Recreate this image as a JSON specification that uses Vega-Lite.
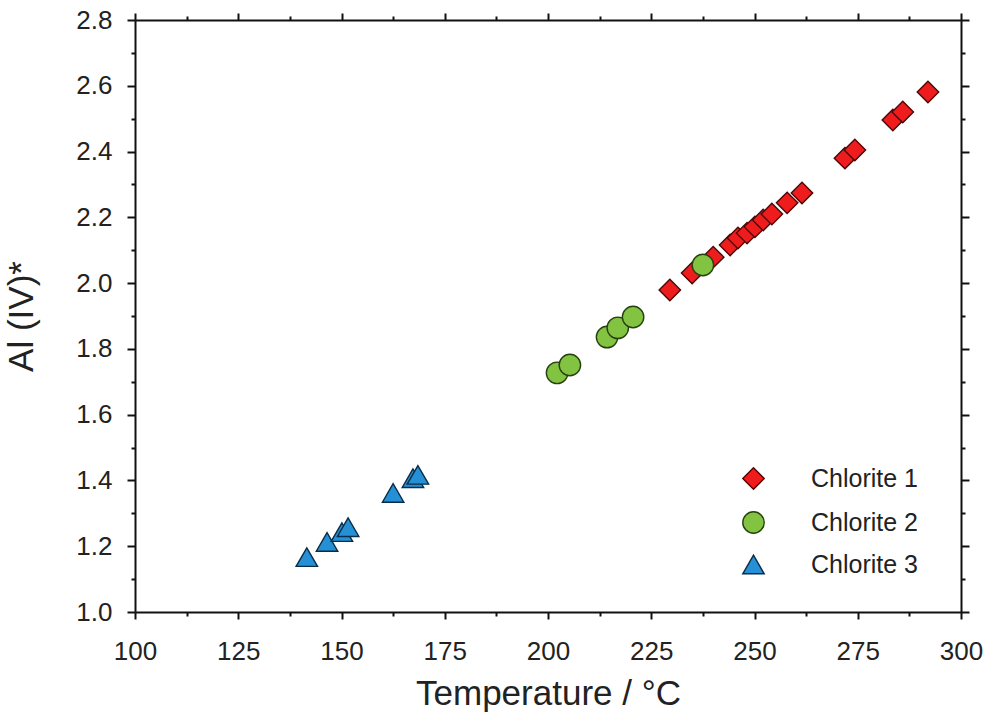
{
  "$schema": "https://vega.github.io/schema/vega-lite/v6.json",
  "width": 826,
  "height": 592,
  "autosize": {"type": "none"},
  "padding": {"left": 135, "top": 20, "right": 25, "bottom": 109},
  "background": "white",
  "config": {
    "view": {"stroke": null},
    "font": "Liberation Sans",
    "axis": {
      "grid": false,
      "domainColor": "#111",
      "domainWidth": 2,
      "tickColor": "#111",
      "tickWidth": 2,
      "labelFont": "Liberation Sans",
      "labelFontSize": 26,
      "labelColor": "#222",
      "labelOverlap": false,
      "labelFlush": false,
      "labelBound": false,
      "titleFont": "Liberation Sans",
      "titleFontSize": 35,
      "titleFontWeight": "normal",
      "titleColor": "#222"
    }
  },
  "data": {
    "values": [
      {"temp": 229.5, "al": 1.979, "group": "Chlorite 1"},
      {"temp": 234.9, "al": 2.031, "group": "Chlorite 1"},
      {"temp": 240.0, "al": 2.079, "group": "Chlorite 1"},
      {"temp": 244.1, "al": 2.116, "group": "Chlorite 1"},
      {"temp": 246.0, "al": 2.137, "group": "Chlorite 1"},
      {"temp": 248.2, "al": 2.152, "group": "Chlorite 1"},
      {"temp": 250.1, "al": 2.171, "group": "Chlorite 1"},
      {"temp": 252.1, "al": 2.192, "group": "Chlorite 1"},
      {"temp": 254.2, "al": 2.21, "group": "Chlorite 1"},
      {"temp": 257.9, "al": 2.244, "group": "Chlorite 1"},
      {"temp": 261.5, "al": 2.274, "group": "Chlorite 1"},
      {"temp": 271.9, "al": 2.38, "group": "Chlorite 1"},
      {"temp": 274.3, "al": 2.405, "group": "Chlorite 1"},
      {"temp": 283.5, "al": 2.496, "group": "Chlorite 1"},
      {"temp": 285.9, "al": 2.52, "group": "Chlorite 1"},
      {"temp": 292.0, "al": 2.581, "group": "Chlorite 1"},
      {"temp": 202.2, "al": 1.727, "group": "Chlorite 2"},
      {"temp": 205.3, "al": 1.751, "group": "Chlorite 2"},
      {"temp": 214.3, "al": 1.836, "group": "Chlorite 2"},
      {"temp": 216.9, "al": 1.864, "group": "Chlorite 2"},
      {"temp": 220.6, "al": 1.897, "group": "Chlorite 2"},
      {"temp": 237.5, "al": 2.055, "group": "Chlorite 2"},
      {"temp": 141.6, "al": 1.167, "group": "Chlorite 3"},
      {"temp": 146.5, "al": 1.213, "group": "Chlorite 3"},
      {"temp": 150.1, "al": 1.243, "group": "Chlorite 3"},
      {"temp": 151.6, "al": 1.258, "group": "Chlorite 3"},
      {"temp": 162.5, "al": 1.362, "group": "Chlorite 3"},
      {"temp": 167.3, "al": 1.407, "group": "Chlorite 3"},
      {"temp": 168.5, "al": 1.417, "group": "Chlorite 3"}
    ]
  },
  "layer": [
    {
      "mark": {"type": "point", "filled": true, "opacity": 1, "strokeWidth": 1.4, "size": 460},
      "encoding": {
        "x": {
          "field": "temp", "type": "quantitative",
          "scale": {"domain": [100, 300], "nice": false, "zero": false},
          "axis": {
            "orient": "bottom",
            "title": "Temperature / °C",
            "values": [100,112.5,125,137.5,150,162.5,175,187.5,200,212.5,225,237.5,250,262.5,275,287.5,300],
            "labelExpr": "datum.value % 25 == 0 ? format(datum.value, 'd') : ''",
            "tickSize": {"condition": {"test": "datum.value % 25 == 0", "value": 7}, "value": 4},
            "labelPadding": 19,
            "titlePadding": 12
          }
        },
        "y": {
          "field": "al", "type": "quantitative",
          "scale": {"domain": [1.0, 2.8], "nice": false, "zero": false},
          "axis": {
            "orient": "left",
            "title": "Al (IV)*",
            "values": [1.0,1.1,1.2,1.3,1.4,1.5,1.6,1.7,1.8,1.9,2.0,2.1,2.2,2.3,2.4,2.5,2.6,2.7,2.8],
            "labelExpr": "round(datum.value * 10) % 2 == 0 ? format(datum.value, '.1f') : ''",
            "tickSize": {"condition": {"test": "round(datum.value * 10) % 2 == 0", "value": 8}, "value": 4},
            "labelPadding": 15,
            "titlePadding": 36
          }
        },
        "shape": {
          "field": "group", "type": "nominal",
          "scale": {"domain": ["Chlorite 1", "Chlorite 2", "Chlorite 3"], "range": ["diamond", "circle", "triangle-up"]},
          "legend": {
            "title": null,
            "orient": "none",
            "legendX": 606,
            "legendY": 446,
            "labelFont": "Liberation Sans",
            "labelFontSize": 25,
            "labelColor": "#222",
            "labelOffset": 45,
            "rowPadding": 15,
            "symbolSize": 460,
            "symbolStrokeWidth": 1.4
          }
        },
        "fill": {
          "field": "group", "type": "nominal",
          "scale": {"domain": ["Chlorite 1", "Chlorite 2", "Chlorite 3"], "range": ["#ee1c1c", "#82c341", "#2590d5"]},
          "legend": {
            "title": null,
            "orient": "none",
            "legendX": 606,
            "legendY": 446,
            "labelFont": "Liberation Sans",
            "labelFontSize": 25,
            "labelColor": "#222",
            "labelOffset": 45,
            "rowPadding": 15,
            "symbolSize": 460,
            "symbolStrokeWidth": 1.4
          }
        },
        "stroke": {
          "field": "group", "type": "nominal",
          "scale": {"domain": ["Chlorite 1", "Chlorite 2", "Chlorite 3"], "range": ["#4a0a0a", "#26400f", "#0b2c46"]},
          "legend": {
            "title": null,
            "orient": "none",
            "legendX": 606,
            "legendY": 446,
            "labelFont": "Liberation Sans",
            "labelFontSize": 25,
            "labelColor": "#222",
            "labelOffset": 45,
            "rowPadding": 15,
            "symbolSize": 460,
            "symbolStrokeWidth": 1.4
          }
        }
      }
    },
    {
      "mark": {"type": "point", "opacity": 0},
      "encoding": {
        "x": {
          "field": "temp", "type": "quantitative",
          "axis": {
            "orient": "top",
            "title": null,
            "labels": false,
            "values": [100,112.5,125,137.5,150,162.5,175,187.5,200,212.5,225,237.5,250,262.5,275,287.5,300],
            "tickSize": {"condition": {"test": "datum.value % 25 == 0", "value": 7}, "value": 4}
          }
        },
        "y": {
          "field": "al", "type": "quantitative",
          "axis": {
            "orient": "right",
            "title": null,
            "labels": false,
            "values": [1.0,1.1,1.2,1.3,1.4,1.5,1.6,1.7,1.8,1.9,2.0,2.1,2.2,2.3,2.4,2.5,2.6,2.7,2.8],
            "tickSize": {"condition": {"test": "round(datum.value * 10) % 2 == 0", "value": 8}, "value": 4}
          }
        }
      }
    }
  ],
  "resolve": {"axis": {"x": "independent", "y": "independent"}}
}
